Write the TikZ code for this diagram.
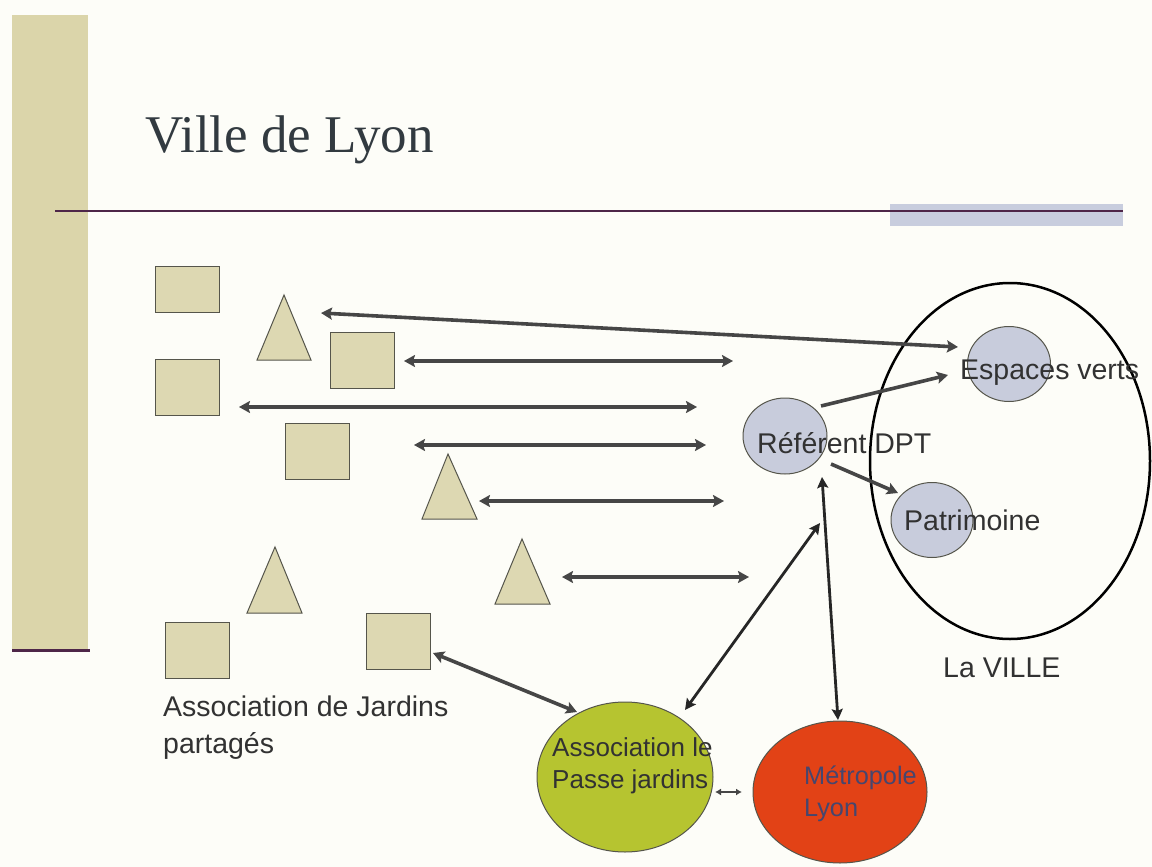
\documentclass[tikz,border=0pt]{standalone}
\usepackage{fontspec}
\setmainfont{Liberation Sans}
\newfontfamily\titlefont{Liberation Serif}
\usetikzlibrary{shapes.geometric,arrows.meta}
\definecolor{bgc}{RGB}{253,253,248}
\definecolor{beige}{RGB}{221,216,178}
\definecolor{barc}{RGB}{219,213,170}
\definecolor{edgec}{RGB}{85,85,75}
\definecolor{purp}{RGB}{78,38,72}
\definecolor{bluegray}{RGB}{200,205,222}
\definecolor{bubblec}{RGB}{200,204,220}
\definecolor{greenc}{RGB}{182,196,48}
\definecolor{redc}{RGB}{226,66,22}
\definecolor{txtc}{RGB}{50,50,50}
\definecolor{titlec}{RGB}{50,58,64}
\definecolor{metc}{RGB}{70,70,110}
\definecolor{arrc}{RGB}{70,70,70}
\tikzset{
  sqbox/.style={draw=edgec,fill=beige,line width=1pt,inner sep=0pt,minimum width=64pt},
  tribox/.style={draw=edgec,fill=beige,line width=1pt},
  bubble/.style={ellipse,draw=edgec,fill=bubblec,line width=1pt,inner sep=0pt},
  lbl/.style={text=txtc,font=\fontsize{28.5}{32}\selectfont,inner sep=0pt},
  link/.style={draw=arrc,line width=3.6pt,{Stealth[length=11pt,width=12pt,inset=2pt]}-{Stealth[length=11pt,width=12pt,inset=2pt]}},
  linkone/.style={draw=arrc,line width=3.6pt,-{Stealth[length=11pt,width=12pt,inset=2pt]}},
  vlink/.style={draw=black!85,line width=2.8pt,{Stealth[length=11pt,width=11pt,inset=2pt]}-{Stealth[length=11pt,width=11pt,inset=2pt]}},
  smalllink/.style={draw=arrc,line width=1.5pt,{Latex[length=6pt,width=7pt]}-{Latex[length=6pt,width=7pt]}}
}
\begin{document}
\begin{tikzpicture}[x=1pt,y=-1pt]
\useasboundingbox[fill=bgc] (0,0) rectangle (1152,867);
% left bar
\fill[barc] (12,15) rectangle (88,650);
\draw[purp,line width=3pt] (12,650) -- (90,650);
% title
\node[anchor=base west,inner sep=0pt,text=titlec,font=\titlefont\fontsize{53}{60}\selectfont] (title) at (145,152) {Ville de Lyon};
% rule
\fill[bluegray] (890,204) rectangle (1123,226);
\draw[purp,line width=2pt] (55,211) -- (1123,211);
% squares
\node[sqbox,minimum height=46pt] (s1) at (187,289) {};
\node[sqbox,minimum height=56pt] (s2) at (362,360) {};
\node[sqbox,minimum height=56pt] (s3) at (187,387) {};
\node[sqbox,minimum height=56pt] (s4) at (317,451) {};
\node[sqbox,minimum height=56pt] (s5) at (197,650) {};
\node[sqbox,minimum height=56pt] (s6) at (398,641) {};
% triangles
\draw[tribox] (284,295) -- (311,360) -- (257,360) -- cycle;
\draw[tribox] (448,454) -- (477,519) -- (422,519) -- cycle;
\draw[tribox] (275,547) -- (302,613) -- (247,613) -- cycle;
\draw[tribox] (522,539) -- (550,604) -- (495,604) -- cycle;
% big ellipse
\node[ellipse,draw=black,line width=2.5pt,minimum width=280pt,minimum height=356pt,inner sep=0pt] (ville) at (1010,461) {};
\node[lbl,anchor=west] (villelbl) at (943,668) {La VILLE};
% bubbles
\node[bubble,minimum width=83pt,minimum height=75pt] (ev) at (1009,364) {};
\node[bubble,minimum width=84pt,minimum height=76pt] (ref) at (785,436) {};
\node[bubble,minimum width=82pt,minimum height=75pt] (pat) at (932,520) {};
\node[lbl,anchor=west] (evlbl) at (960,373) {Espaces verts};
\node[lbl,anchor=west] (reflbl) at (757,443) {Référent DPT};
\node[lbl,anchor=west] (patlbl) at (904,520) {Patrimoine};
% bottom ellipses
\node[ellipse,draw=edgec,fill=greenc,line width=1pt,minimum width=176pt,minimum height=150pt,inner sep=0pt] (passe) at (625,777) {};
\node[ellipse,draw=edgec,fill=redc,line width=1pt,minimum width=174pt,minimum height=142pt,inner sep=0pt] (metro) at (840,792) {};
\node[anchor=west,inner sep=0pt,text=txtc,font=\fontsize{26}{32}\selectfont,align=left] (passelbl) at (552,766) {Association le\\Passe jardins};
\node[anchor=west,inner sep=0pt,text=metc,font=\fontsize{25.3}{32}\selectfont,align=left] (metrolbl) at (804,794) {Métropole\\Lyon};
\node[anchor=north west,inner sep=0pt,text=txtc,font=\fontsize{28.5}{37}\selectfont,align=left] (jardlbl) at (163,696) {Association de Jardins\\partagés};
% arrow end points
\coordinate (a1l) at (321,313); \coordinate (a1r) at (958,347);
\coordinate (a2l) at (404,361); \coordinate (a2r) at (733,361);
\coordinate (a3l) at (239,407); \coordinate (a3r) at (697,407);
\coordinate (a4l) at (414,445); \coordinate (a4r) at (706,445);
\coordinate (a5l) at (479,501); \coordinate (a5r) at (724,501);
\coordinate (a6l) at (562,577); \coordinate (a6r) at (749,577);
\coordinate (a7l) at (433,653); \coordinate (a7r) at (577,712);
\coordinate (a8l) at (685,710); \coordinate (a8r) at (820,523);
\coordinate (a9t) at (822,477); \coordinate (a9b) at (838,720);
\coordinate (a10s) at (821,406); \coordinate (a10e) at (948,375);
\coordinate (a11s) at (831,464); \coordinate (a11e) at (898,493);
\coordinate (a12l) at (715,792); \coordinate (a12r) at (742,792);
% connectors
\draw[link] (a1l) -- (a1r);
\draw[link] (a2l) -- (a2r);
\draw[link] (a3l) -- (a3r);
\draw[link] (a4l) -- (a4r);
\draw[link] (a5l) -- (a5r);
\draw[link] (a6l) -- (a6r);
\draw[link] (a7l) -- (a7r);
\draw[vlink] (a8l) -- (a8r);
\draw[vlink] (a9t) -- (a9b);
\draw[linkone] (a10s) -- (a10e);
\draw[linkone] (a11s) -- (a11e);
\draw[smalllink] (a12l) -- (a12r);
\end{tikzpicture}
\end{document}
